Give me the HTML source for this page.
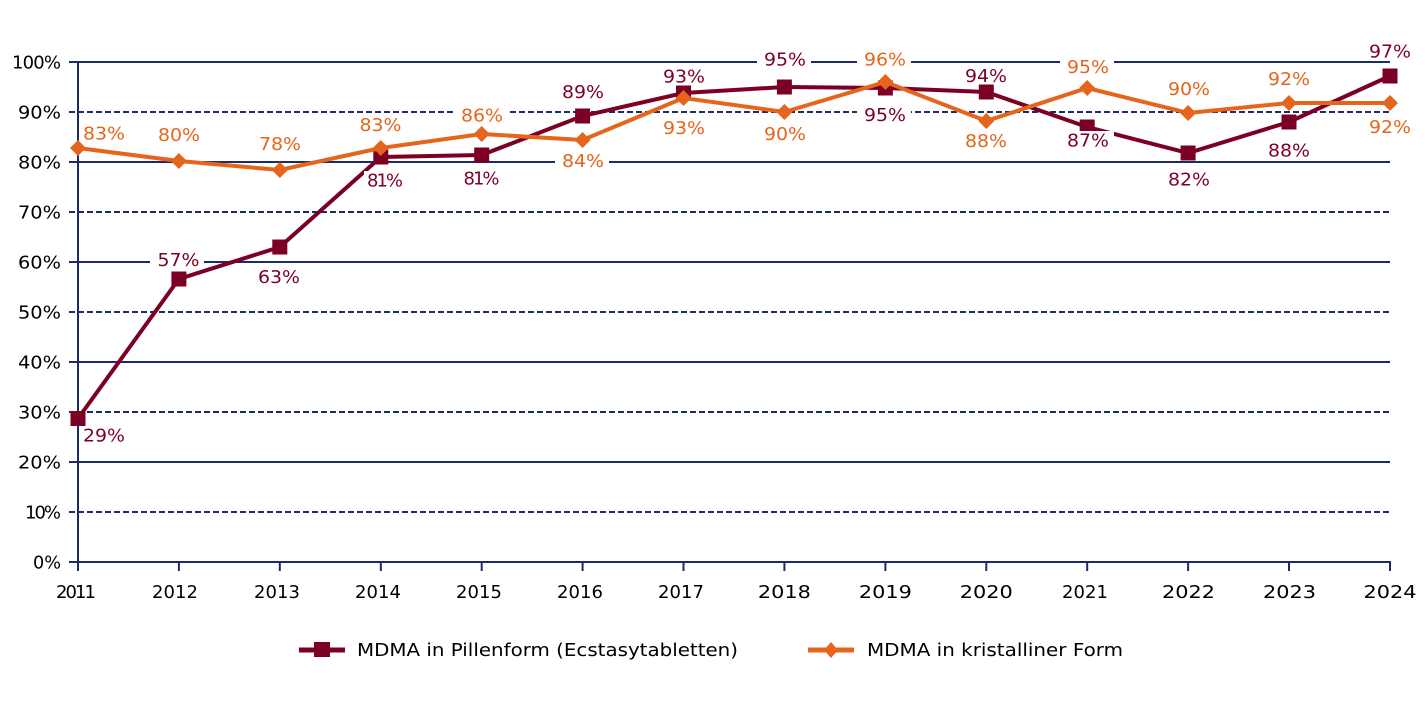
<!DOCTYPE html>
<html><head><meta charset="utf-8"><style>
html,body{margin:0;padding:0;background:#fff;}
svg{display:block;}
text{font-family:"DejaVu Sans","Liberation Sans",sans-serif;font-size:18px;}
</style></head><body>
<svg width="1425" height="703" viewBox="0 0 1425 703" xmlns="http://www.w3.org/2000/svg">
<rect width="1425" height="703" fill="#fff"/>
<g stroke="#1B2A6B" stroke-width="2" fill="none">
<line x1="69" y1="62" x2="1390" y2="62"/>
<line x1="69" y1="162" x2="1390" y2="162"/>
<line x1="69" y1="262" x2="1390" y2="262"/>
<line x1="69" y1="362" x2="1390" y2="362"/>
<line x1="69" y1="462" x2="1390" y2="462"/>
<g stroke-dasharray="6 3">
<line x1="69" y1="112" x2="1390" y2="112"/>
<line x1="69" y1="212" x2="1390" y2="212"/>
<line x1="69" y1="312" x2="1390" y2="312"/>
<line x1="69" y1="412" x2="1390" y2="412"/>
<line x1="69" y1="512" x2="1390" y2="512"/>
</g>
<line x1="69" y1="562" x2="1391" y2="562"/>
<line x1="78" y1="61" x2="78" y2="571"/>
<line x1="178.9" y1="562" x2="178.9" y2="571"/>
<line x1="279.8" y1="562" x2="279.8" y2="571"/>
<line x1="380.8" y1="562" x2="380.8" y2="571"/>
<line x1="481.7" y1="562" x2="481.7" y2="571"/>
<line x1="582.6" y1="562" x2="582.6" y2="571"/>
<line x1="683.5" y1="562" x2="683.5" y2="571"/>
<line x1="784.4" y1="562" x2="784.4" y2="571"/>
<line x1="885.4" y1="562" x2="885.4" y2="571"/>
<line x1="986.3" y1="562" x2="986.3" y2="571"/>
<line x1="1087.2" y1="562" x2="1087.2" y2="571"/>
<line x1="1188.1" y1="562" x2="1188.1" y2="571"/>
<line x1="1289" y1="562" x2="1289" y2="571"/>
<line x1="1390" y1="562" x2="1390" y2="571"/>
</g>
<!-- y axis labels -->
<g fill="#000" text-anchor="end">
<text x="61" y="68.5" textLength="49" lengthAdjust="spacing">100%</text>
<text x="61" y="118.5" textLength="43" lengthAdjust="spacingAndGlyphs">90%</text>
<text x="61" y="168.5" textLength="43" lengthAdjust="spacingAndGlyphs">80%</text>
<text x="61" y="218.5" textLength="43" lengthAdjust="spacingAndGlyphs">70%</text>
<text x="61" y="268.5" textLength="43" lengthAdjust="spacingAndGlyphs">60%</text>
<text x="61" y="318.5" textLength="43" lengthAdjust="spacingAndGlyphs">50%</text>
<text x="61" y="368.5" textLength="43" lengthAdjust="spacingAndGlyphs">40%</text>
<text x="61" y="418.5" textLength="43" lengthAdjust="spacingAndGlyphs">30%</text>
<text x="61" y="468.5" textLength="43" lengthAdjust="spacingAndGlyphs">20%</text>
<text x="61" y="518.5" textLength="36" lengthAdjust="spacing">10%</text>
<text x="61" y="568.5" textLength="28" lengthAdjust="spacingAndGlyphs">0%</text>
</g>
<!-- x axis labels -->
<g fill="#000" text-anchor="middle">
<text x="76" y="598" textLength="40" lengthAdjust="spacing">2011</text>
<text x="175" y="598" textLength="46" lengthAdjust="spacing">2012</text>
<text x="277" y="598" textLength="46" lengthAdjust="spacing">2013</text>
<text x="378" y="598" textLength="46" lengthAdjust="spacing">2014</text>
<text x="479" y="598" textLength="46" lengthAdjust="spacing">2015</text>
<text x="580" y="598" textLength="46" lengthAdjust="spacing">2016</text>
<text x="681" y="598" textLength="46" lengthAdjust="spacing">2017</text>
<text x="784.4" y="598" textLength="53" lengthAdjust="spacingAndGlyphs">2018</text>
<text x="885.4" y="598" textLength="53" lengthAdjust="spacingAndGlyphs">2019</text>
<text x="986.3" y="598" textLength="53" lengthAdjust="spacingAndGlyphs">2020</text>
<text x="1085" y="598" textLength="46" lengthAdjust="spacing">2021</text>
<text x="1188.5" y="598" textLength="53" lengthAdjust="spacingAndGlyphs">2022</text>
<text x="1289.5" y="598" textLength="53" lengthAdjust="spacingAndGlyphs">2023</text>
<text x="1390" y="598" textLength="53" lengthAdjust="spacingAndGlyphs">2024</text>
</g>
<!-- series -->
<polyline fill="none" stroke="#7B0024" stroke-width="4" stroke-linejoin="miter" points="78,418.5 178.9,279 279.8,247 380.8,157 481.7,155 582.6,116 683.5,93 784.4,87 885.4,88 986.3,92 1087.2,127 1188.1,153 1289,122 1390,76"/>
<g fill="#7B0024">
<rect x="70.5" y="411" width="15" height="15"/>
<rect x="171.4" y="271.5" width="15" height="15"/>
<rect x="272.3" y="239.5" width="15" height="15"/>
<rect x="373.3" y="149.5" width="15" height="15"/>
<rect x="474.2" y="147.5" width="15" height="15"/>
<rect x="575.1" y="108.5" width="15" height="15"/>
<rect x="676" y="85.5" width="15" height="15"/>
<rect x="776.9" y="79.5" width="15" height="15"/>
<rect x="877.9" y="80.5" width="15" height="15"/>
<rect x="978.8" y="84.5" width="15" height="15"/>
<rect x="1079.7" y="119.5" width="15" height="15"/>
<rect x="1180.6" y="145.5" width="15" height="15"/>
<rect x="1281.5" y="114.5" width="15" height="15"/>
<rect x="1382.5" y="68.5" width="15" height="15"/>
</g>
<polyline fill="none" stroke="#E5651C" stroke-width="4" stroke-linejoin="miter" points="78,148 178.9,161 279.8,170 380.8,148 481.7,134 582.6,140 683.5,98 784.4,112 885.4,82 986.3,121 1087.2,88 1188.1,113 1289,103 1390,103"/>
<g fill="#E5651C">
<polygon points="78,140 86,148 78,156 70,148"/>
<polygon points="178.9,153 186.9,161 178.9,169 170.9,161"/>
<polygon points="279.8,162 287.8,170 279.8,178 271.8,170"/>
<polygon points="380.8,140 388.8,148 380.8,156 372.8,148"/>
<polygon points="481.7,126 489.7,134 481.7,142 473.7,134"/>
<polygon points="582.6,132 590.6,140 582.6,148 574.6,140"/>
<polygon points="683.5,90 691.5,98 683.5,106 675.5,98"/>
<polygon points="784.4,104 792.4,112 784.4,120 776.4,112"/>
<polygon points="885.4,74 893.4,82 885.4,90 877.4,82"/>
<polygon points="986.3,113 994.3,121 986.3,129 978.3,121"/>
<polygon points="1087.2,80 1095.2,88 1087.2,96 1079.2,88"/>
<polygon points="1188.1,105 1196.1,113 1188.1,121 1180.1,113"/>
<polygon points="1289,95 1297,103 1289,111 1281,103"/>
<polygon points="1390,95 1398,103 1390,111 1382,103"/>
</g>
<!-- label backgrounds -->
<g fill="#fff">
<rect x="80" y="426" width="51" height="18"/>
<rect x="150" y="250.5" width="54" height="18"/>
<rect x="251" y="267.5" width="54" height="18"/>
<rect x="364" y="171" width="42" height="18"/>
<rect x="461" y="169" width="42" height="18"/>
<rect x="555" y="82.5" width="54" height="18"/>
<rect x="656" y="67" width="54" height="18"/>
<rect x="757" y="50" width="54" height="18"/>
<rect x="857" y="105.5" width="54" height="18"/>
<rect x="958" y="66.5" width="54" height="18"/>
<rect x="1060" y="131" width="54" height="18"/>
<rect x="1161" y="170" width="54" height="18"/>
<rect x="1261" y="141" width="54" height="18"/>
<rect x="1362" y="42" width="54" height="18"/>
<rect x="81" y="124" width="50" height="18"/>
<rect x="151" y="125.5" width="54" height="18"/>
<rect x="252" y="134.5" width="54" height="18"/>
<rect x="352.5" y="115.5" width="54" height="18"/>
<rect x="454" y="106" width="54" height="18"/>
<rect x="555" y="151.5" width="54" height="18"/>
<rect x="656" y="118.5" width="54" height="18"/>
<rect x="757" y="124.5" width="54" height="18"/>
<rect x="857" y="50" width="54" height="18"/>
<rect x="958" y="131.5" width="54" height="18"/>
<rect x="1060" y="57.5" width="54" height="18"/>
<rect x="1161" y="79.5" width="54" height="18"/>
<rect x="1261" y="69.5" width="54" height="18"/>
<rect x="1362" y="117.5" width="54" height="18"/>
</g>
<!-- pills labels -->
<g fill="#7B0024" text-anchor="middle">
<text x="104" y="441.5" textLength="42" lengthAdjust="spacingAndGlyphs">29%</text>
<text x="178.5" y="266" textLength="42" lengthAdjust="spacingAndGlyphs">57%</text>
<text x="279" y="283" textLength="42" lengthAdjust="spacingAndGlyphs">63%</text>
<text x="385" y="186.5" textLength="36" lengthAdjust="spacing">81%</text>
<text x="481.5" y="184.5" textLength="36" lengthAdjust="spacing">81%</text>
<text x="583" y="98" textLength="42" lengthAdjust="spacingAndGlyphs">89%</text>
<text x="684" y="82.5" textLength="42" lengthAdjust="spacingAndGlyphs">93%</text>
<text x="785" y="65.5" textLength="42" lengthAdjust="spacingAndGlyphs">95%</text>
<text x="885" y="121" textLength="42" lengthAdjust="spacingAndGlyphs">95%</text>
<text x="986" y="82" textLength="42" lengthAdjust="spacingAndGlyphs">94%</text>
<text x="1088" y="146.5" textLength="42" lengthAdjust="spacingAndGlyphs">87%</text>
<text x="1189" y="185.5" textLength="42" lengthAdjust="spacingAndGlyphs">82%</text>
<text x="1289" y="156.5" textLength="42" lengthAdjust="spacingAndGlyphs">88%</text>
<text x="1390" y="57.5" textLength="42" lengthAdjust="spacingAndGlyphs">97%</text>
</g>
<!-- crystal labels -->
<g fill="#E5651C" text-anchor="middle">
<text x="104" y="139.5" textLength="42" lengthAdjust="spacingAndGlyphs">83%</text>
<text x="179" y="141" textLength="42" lengthAdjust="spacingAndGlyphs">80%</text>
<text x="280" y="150" textLength="42" lengthAdjust="spacingAndGlyphs">78%</text>
<text x="380.5" y="131" textLength="42" lengthAdjust="spacingAndGlyphs">83%</text>
<text x="482" y="121.5" textLength="42" lengthAdjust="spacingAndGlyphs">86%</text>
<text x="583" y="167" textLength="42" lengthAdjust="spacingAndGlyphs">84%</text>
<text x="684" y="134" textLength="42" lengthAdjust="spacingAndGlyphs">93%</text>
<text x="785" y="140" textLength="42" lengthAdjust="spacingAndGlyphs">90%</text>
<text x="885" y="65.5" textLength="42" lengthAdjust="spacingAndGlyphs">96%</text>
<text x="986" y="147" textLength="42" lengthAdjust="spacingAndGlyphs">88%</text>
<text x="1088" y="73" textLength="42" lengthAdjust="spacingAndGlyphs">95%</text>
<text x="1189" y="95" textLength="42" lengthAdjust="spacingAndGlyphs">90%</text>
<text x="1289" y="85" textLength="42" lengthAdjust="spacingAndGlyphs">92%</text>
<text x="1390" y="133" textLength="42" lengthAdjust="spacingAndGlyphs">92%</text>
</g>
<!-- legend -->
<line x1="299" y1="650" x2="345" y2="650" stroke="#7B0024" stroke-width="5"/>
<rect x="314" y="642" width="16" height="15" fill="#7B0024"/>
<text x="357" y="656" fill="#000" textLength="381" lengthAdjust="spacingAndGlyphs">MDMA in Pillenform (Ecstasytabletten)</text>
<line x1="808" y1="650" x2="854" y2="650" stroke="#E5651C" stroke-width="5"/>
<polygon points="831,642 838,650 831,658 824,650" fill="#E5651C"/>
<text x="867" y="656" fill="#000" textLength="256" lengthAdjust="spacingAndGlyphs">MDMA in kristalliner Form</text>
</svg>
</body></html>
